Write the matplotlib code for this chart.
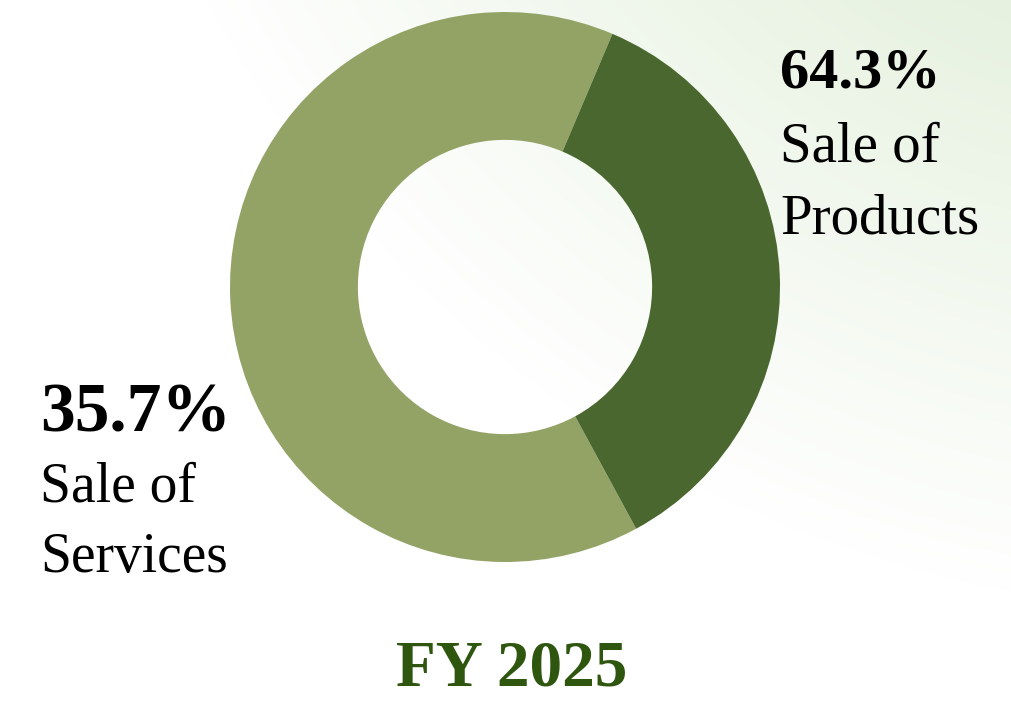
import numpy as np
import matplotlib
matplotlib.use('Agg')
import matplotlib.pyplot as plt

# Data
categories = ['Sale of Products', 'Sale of Services']
shares = [64.3, 35.7]
period = 'FY 2025'

# the ring in the source draws the 64.3 slice light and the 35.7 slice dark
ring_colors = ['#93A366', '#4A6730']
title_color = '#2E560E'

W, H, DPI = 1012, 706, 100
fig = plt.figure(figsize=(W / DPI, H / DPI), dpi=DPI, facecolor='white')

# soft green glow from the top-right corner
bg = fig.add_axes([0, 0, 1, 1], zorder=0)
yy, xx = np.mgrid[0:H, 0:W]
r = np.hypot(xx - 1215, yy + 530)
t = np.clip(1 - r / 1140, 0, 1)[..., None]
inner = np.array([206, 228, 192]) / 255
img = 1 - t * (1 - inner)
bg.imshow(img, extent=[0, W, H, 0], aspect='auto', interpolation='bilinear')
bg.set_xlim(0, W)
bg.set_ylim(H, 0)
bg.axis('off')

# donut
cx, cy, R = 505, 287, 275
ax = fig.add_axes([(cx - R) / W, (H - cy - R) / H, 2 * R / W, 2 * R / H], zorder=1)
ax.pie(shares, colors=ring_colors, startangle=67, counterclock=True,
       radius=1, wedgeprops=dict(width=0.465, edgecolor='none'))
ax.set_xlim(-1, 1)
ax.set_ylim(-1, 1)
ax.set_aspect('equal')
ax.axis('off')

font = 'Liberation Serif'

def label(x, y0, pct, name, pct_size, name_size, gap):
    fig.text(x / W, 1 - y0 / H, f'{pct}%', fontsize=pct_size, fontweight='bold',
             family=font, color='black', va='baseline', ha='left')
    words = name.split(' ')
    fig.text(x / W, 1 - (y0 + gap) / H, ' '.join(words[:2]), fontsize=name_size,
             family=font, color='black', va='baseline', ha='left')
    fig.text(x / W, 1 - (y0 + 2 * gap) / H, words[2], fontsize=name_size,
             family=font, color='black', va='baseline', ha='left')

label(780, 88, shares[0], categories[0], 42, 41, 73)
label(40, 432, shares[1], categories[1], 50, 40, 70)

fig.text(512 / W, 1 - 686 / H, period, fontsize=47, fontweight='bold', family=font,
         color=title_color, ha='center', va='baseline')

fig.savefig('out.png', dpi=DPI, facecolor='white')
